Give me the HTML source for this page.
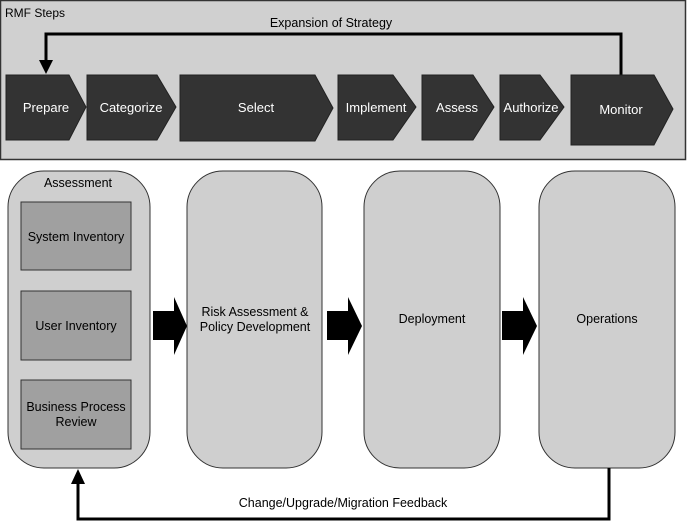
<!DOCTYPE html>
<html><head><meta charset="utf-8"><style>
html,body{margin:0;padding:0;background:#fff;}
svg{display:block;font-family:"Liberation Sans",Arial,sans-serif;}
</style></head><body>
<svg width="687" height="523" viewBox="0 0 687 523" xmlns="http://www.w3.org/2000/svg">
<rect x="0.5" y="0.5" width="685" height="159" fill="#d0d0d0" stroke="#333" stroke-width="1.5"/>
<text x="5" y="17" font-size="12" fill="#000">RMF Steps</text>
<text x="331" y="27" font-size="12.5" fill="#000" text-anchor="middle">Expansion of Strategy</text>
<polyline points="621,75 621,34 46,34 46,62" fill="none" stroke="#000" stroke-width="3"/>
<polygon points="39,60 53,60 46,74" fill="#000"/>
<g fill="#333" stroke="#222" stroke-width="1">
<polygon points="6,75 69,75 86,107 69,140 6,140"/>
<polygon points="87,75 157,75 176,107 157,140 87,140"/>
<polygon points="180,75 315,75 333,108 315,141 180,141"/>
<polygon points="338,75 393,75 416,107 393,140 338,140"/>
<polygon points="422,75 473,75 494,107 473,140 422,140"/>
<polygon points="500,75 540,75 564,107 540,140 500,140"/>
<polygon points="571,75 654,75 673,109 654,145 571,145"/>
</g>
<g fill="#fff" font-size="13" text-anchor="middle">
<text x="46" y="112">Prepare</text>
<text x="131" y="112">Categorize</text>
<text x="256" y="112">Select</text>
<text x="376" y="112">Implement</text>
<text x="457" y="112">Assess</text>
<text x="531" y="112">Authorize</text>
<text x="621" y="114">Monitor</text>
</g>
<g fill="#cfcfcf" stroke="#333" stroke-width="1">
<rect x="8" y="171" width="142" height="297" rx="36" ry="36"/>
<rect x="187" y="171" width="135" height="297" rx="36" ry="36"/>
<rect x="364" y="171" width="136" height="297" rx="36" ry="36"/>
<rect x="539" y="171" width="136" height="297" rx="36" ry="36"/>
</g>
<g fill="#a0a0a0" stroke="#333" stroke-width="1">
<rect x="21" y="202" width="110" height="68"/>
<rect x="21" y="291" width="110" height="69"/>
<rect x="21" y="380" width="110" height="69"/>
</g>
<g font-size="12.5" fill="#000" text-anchor="middle">
<text x="78" y="187">Assessment</text>
<text x="76" y="241">System Inventory</text>
<text x="76" y="330">User Inventory</text>
<text x="76" y="411">Business Process</text>
<text x="76" y="426">Review</text>
<text x="255" y="316">Risk Assessment &amp;</text>
<text x="255" y="331">Policy Development</text>
<text x="432" y="323">Deployment</text>
<text x="607" y="323">Operations</text>
<text x="343" y="507">Change/Upgrade/Migration Feedback</text>
</g>
<g fill="#000">
<polygon points="153,311 174,311 174,297 187,326 174,355 174,340 153,340"/>
<polygon points="327,311 348,311 348,297 362,326 348,355 348,340 327,340"/>
<polygon points="502,311 523,311 523,297 537,326 523,355 523,340 502,340"/>
</g>
<polyline points="609,468 609,519 78,519 78,482" fill="none" stroke="#000" stroke-width="3"/>
<polygon points="71,484 85,484 78,469" fill="#000"/>
</svg>
</body></html>
